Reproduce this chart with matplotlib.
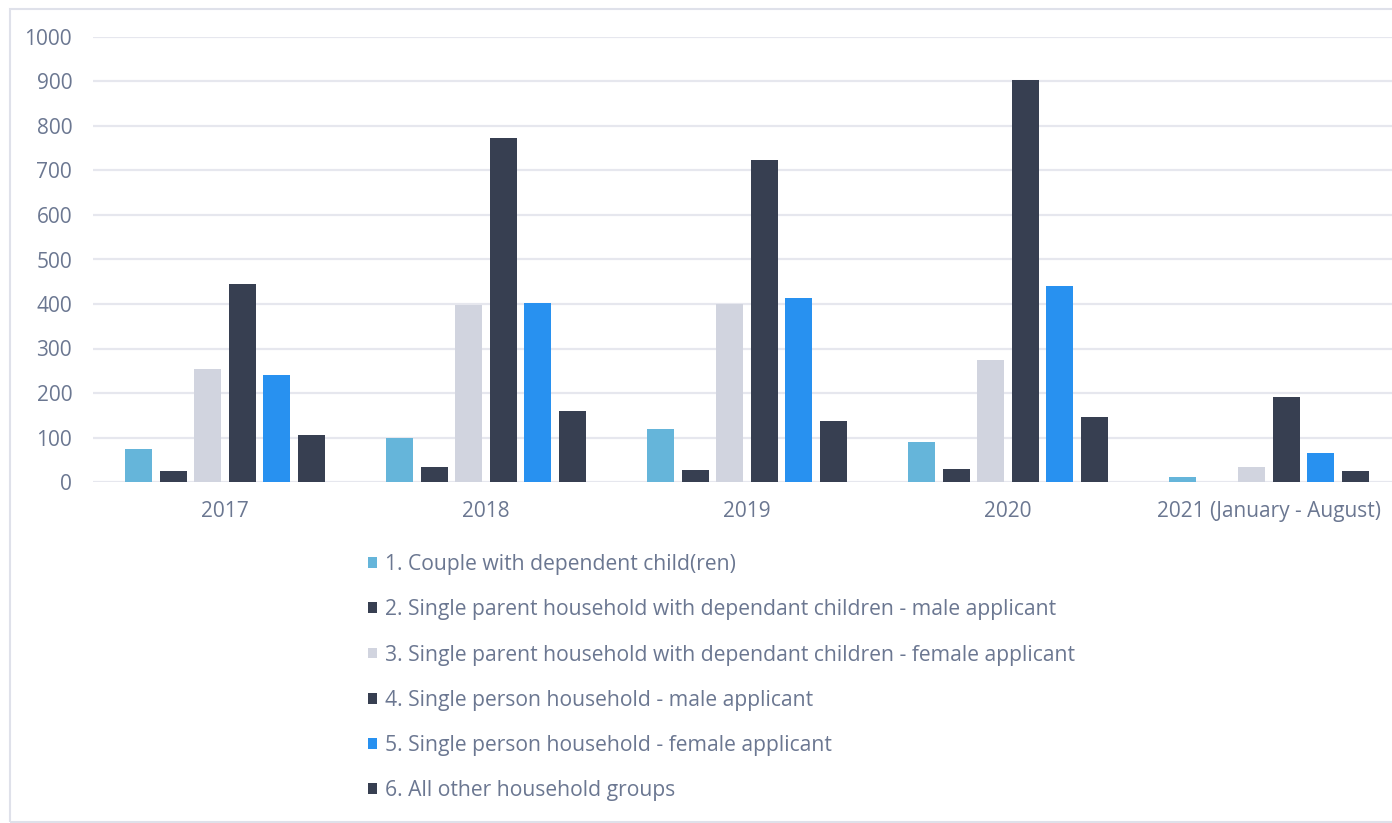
import matplotlib
matplotlib.use("Agg")
import matplotlib.pyplot as plt
import numpy as np
from matplotlib.patches import Rectangle

categories = ["2017", "2018", "2019", "2020", "2021 (January - August)"]
series_names = [
    "1. Couple with dependent child(ren)",
    "2. Single parent household with dependant children - male applicant",
    "3. Single parent household with dependant children - female applicant",
    "4. Single person household - male applicant",
    "5. Single person household - female applicant",
    "6. All other household groups",
]
couple = [74, 100, 120, 91, 11]
sp_male = [25, 34, 26, 30, 0]
sp_female = [253, 398, 399, 275, 34]
single_male = [446, 773, 724, 903, 190]
single_female = [240, 402, 414, 440, 65]
other = [105, 159, 137, 146, 25]
yticks = [0, 100, 200, 300, 400, 500, 600, 700, 800, 900, 1000]

series = [couple, sp_male, sp_female, single_male, single_female, other]
colors = ["#65b5da", "#373f51", "#d1d4df", "#373f51", "#2891f0", "#373f51"]

plt.rcParams["font.family"] = ["Open Sans", "DejaVu Sans"]
text_color = "#6b7791"

W, H = 1392, 823
fig = plt.figure(figsize=(W / 100, H / 100), dpi=100)
ax = fig.add_axes([93 / W, (H - 482) / H, (W - 93) / W, 445 / H])

x = np.arange(len(categories))
step = 0.1326
width = 0.1034
handles = []
for i, (vals, col, name) in enumerate(zip(series, colors, series_names)):
    b = ax.bar(x + (i - 2.5) * step, vals, width, color=col, label=name, zorder=3)
    handles.append(b)

ax.set_ylim(0, 1000)
ax.set_xlim(-0.506, 4.471)
ax.set_yticks(yticks)
ax.set_xticks(x)
ax.set_xticklabels(categories)
ax.grid(axis="y", color="#e6e7ee", linewidth=1.6, zorder=0)
ax.set_axisbelow(True)
for s in ax.spines.values():
    s.set_visible(False)
ax.tick_params(axis="both", length=0, labelsize=15, colors=text_color)
ax.tick_params(axis="y", pad=15)
ax.tick_params(axis="x", pad=14)

leg = fig.legend(handles=handles, labels=series_names, loc="upper left",
                 bbox_to_anchor=(368 / W, 1 - 554 / H), frameon=False,
                 fontsize=15.2, labelcolor=text_color, handlelength=0.42,
                 handleheight=0.42, handletextpad=0.4, labelspacing=1.15,
                 borderpad=0, borderaxespad=0)

fig.patches.append(Rectangle((9.5 / W, 1 - 822 / H), (W + 20) / W, (822 - 8.5) / H,
                             transform=fig.transFigure, fill=False,
                             edgecolor="#dfe1ea", linewidth=1.5, zorder=0))

fig.savefig("out.png", dpi=100)
